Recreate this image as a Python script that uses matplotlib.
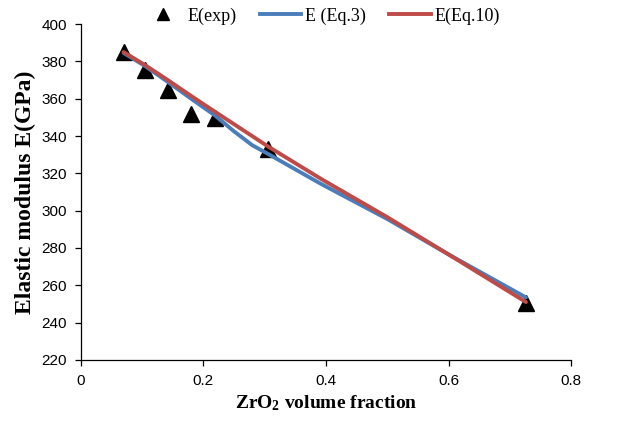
import numpy as np
import matplotlib.pyplot as plt
from matplotlib.lines import Line2D

plt.rcParams['mathtext.default'] = 'regular'

# Experimental data
x_exp = [0.070, 0.105, 0.142, 0.180, 0.219, 0.305, 0.726]
e_exp = [384.8, 375.6, 364.9, 352.0, 349.6, 333.0, 250.5]

# Model curves
x_eq3 = [0.070, 0.105, 0.142, 0.180, 0.219, 0.250, 0.280, 0.305, 0.392, 0.50, 0.60, 0.726]
e_eq3 = [384.5, 377.5, 369.0, 360.0, 351.0, 342.5, 335.0, 330.5, 314.3, 295.5, 276.5, 253.5]

x_eq10 = [0.070, 0.105, 0.142, 0.180, 0.219, 0.305, 0.392, 0.50, 0.60, 0.726]
e_eq10 = [385.0, 378.0, 370.0, 361.5, 353.0, 334.5, 317.0, 296.5, 276.5, 251.0]

fig = plt.figure(figsize=(6.21, 4.30), dpi=100)
ax = fig.add_axes([0.130, 0.163, 0.790, 0.781])

ax.plot(x_eq3, e_eq3, color='#4a7ebb', lw=2.8, solid_capstyle='round', zorder=2)
ax.plot(x_eq10, e_eq10, color='#be4b48', lw=2.8, solid_capstyle='round', zorder=3)
ax.plot(x_exp, e_exp, linestyle='none', marker='^', ms=11, color='black', zorder=1)

ax.set_xlim(0, 0.8)
ax.set_ylim(220, 400)
ax.set_xticks([0, 0.2, 0.4, 0.6, 0.8])
ax.set_xticklabels(['0', '0.2', '0.4', '0.6', '0.8'])
ax.set_yticks(np.arange(220, 401, 20))

for s in ['top', 'right']:
    ax.spines[s].set_visible(False)
for s in ['left', 'bottom']:
    ax.spines[s].set_linewidth(0.9)
ax.tick_params(direction='out', length=4, width=0.9, labelsize=11, pad=6)
for lab in ax.get_xticklabels() + ax.get_yticklabels():
    lab.set_family('Liberation Sans')

ax.set_xlabel('ZrO$_2$ volume fraction', family='Liberation Serif', fontweight='bold', fontsize=14, labelpad=4)
ax.set_ylabel('Elastic modulus E(GPa)', family='Liberation Serif', fontweight='bold', fontsize=17, labelpad=4)

handles = [
    Line2D([], [], linestyle='none', marker='^', ms=9, color='black'),
    Line2D([], [], color='#4a7ebb', lw=2.8),
    Line2D([], [], color='#be4b48', lw=2.8),
]
fig.legend(handles, ['E(exp)', 'E (Eq.3)', 'E(Eq.10)'], loc='center', bbox_to_anchor=(0.517, 0.963),
           ncol=3, frameon=False, prop={'family': 'Liberation Serif', 'size': 13},
           handlelength=2.3, handletextpad=0.2, columnspacing=1.3)

fig.savefig('out.png', dpi=100)
